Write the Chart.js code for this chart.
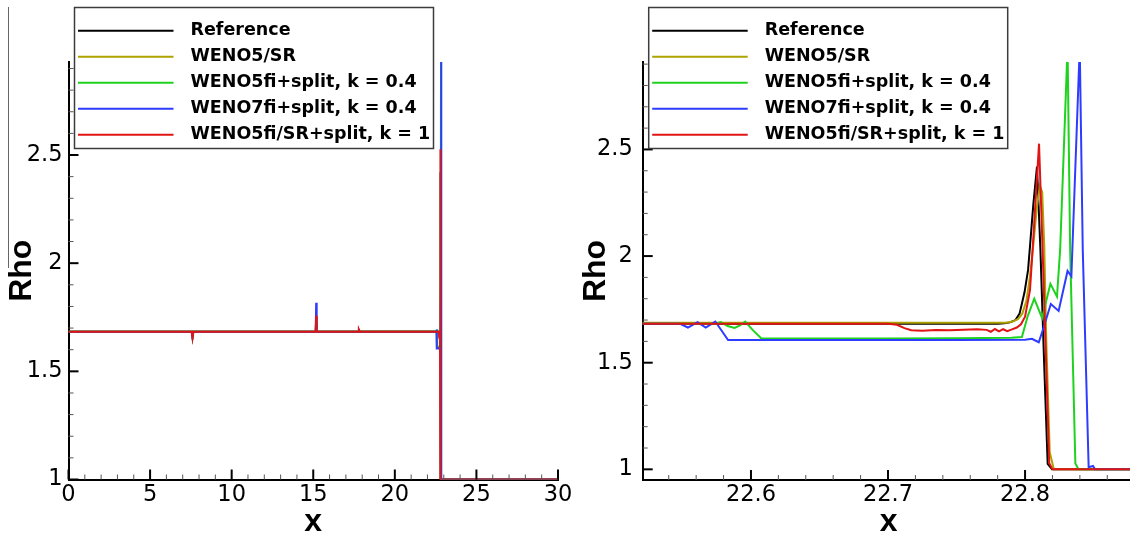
<!DOCTYPE html>
<html>
<head>
<meta charset="utf-8">
<title>Rho vs x</title>
<script src="https://cdn.jsdelivr.net/npm/chart.js@4.4.1/dist/chart.umd.min.js"></script>
<style>
  html, body { margin: 0; padding: 0; background: #fff; overflow: hidden; }
  #wrap { position: relative; width: 1130px; height: 538px; overflow: hidden; background: #fff; }
  canvas { position: absolute; top: 0; }
  #leftChart { left: 0; }
  #rightChart { left: 565px; }
</style>
</head>
<body>
<div id="wrap">
  <canvas id="leftChart" width="600" height="538"></canvas>
  <canvas id="rightChart" width="600" height="538"></canvas>
</div>
<script>
// series names and colours (legend order)
const seriesLabels = ['Reference', 'WENO5/SR', 'WENO5fi+split, k = 0.4', 'WENO7fi+split, k = 0.4', 'WENO5fi/SR+split, k = 1'];
const seriesColors = ['#000000', '#ada200', '#1ed21e', '#2e3cff', '#e01414'];

// Reference
const refX = [0, 22.78, 22.785, 22.789, 22.793, 22.796, 22.7996, 22.8022, 22.8034, 22.806, 22.8087, 22.8112, 22.8138, 22.8165, 22.8197, 30];
const refY = [1.683, 1.683, 1.685, 1.689, 1.70, 1.73, 1.83, 1.935, 2.03, 2.24, 2.42, 2.03, 1.52, 1.026, 1.0, 1.0];

// WENO5/SR
const srX = [0, 7.55, 7.6, 7.65, 15.15, 15.18, 15.21, 22.786, 22.791, 22.795, 22.798, 22.801, 22.8035, 22.806, 22.8085, 22.8108, 22.8125, 22.814, 22.8155, 22.818, 22.821, 30];
const srY = [1.684, 1.684, 1.657, 1.684, 1.684, 1.72, 1.684, 1.687, 1.693, 1.705, 1.73, 1.79, 1.90, 2.05, 2.22, 2.33, 2.30, 2.05, 1.60, 1.08, 1.0, 1.0];

// WENO5fi+split, k = 0.4
const fiX = [0, 7.55, 7.6, 7.65, 15.15, 15.18, 15.21, 17.75, 17.8, 17.85, 22.574, 22.578, 22.583, 22.588, 22.592, 22.5958, 22.601, 22.6076, 22.65, 22.70, 22.75, 22.79, 22.7977, 22.802, 22.8067, 22.8124, 22.8185, 22.8233, 22.8256, 22.831, 22.8329, 22.8367, 22.839, 30];
const fiY = [1.683, 1.683, 1.657, 1.683, 1.683, 1.75, 1.683, 1.683, 1.69, 1.683, 1.683, 1.69, 1.672, 1.663, 1.675, 1.693, 1.655, 1.614, 1.613, 1.614, 1.615, 1.617, 1.62, 1.72, 1.80, 1.71, 1.87, 1.81, 2.03, 2.98, 2.03, 1.027, 1.0, 1.0];

// WENO7fi+split, k = 0.4
const fi7X = [0, 7.55, 7.6, 7.65, 15.15, 15.18, 15.21, 17.75, 17.8, 17.85, 22.548, 22.554, 22.561, 22.567, 22.574, 22.5833, 22.65, 22.70, 22.75, 22.80, 22.805, 22.81, 22.8136, 22.8188, 22.8245, 22.831, 22.8338, 22.8399, 22.8421, 22.8464, 22.8496, 22.851, 30];
const fi7Y = [1.683, 1.683, 1.657, 1.683, 1.683, 1.817, 1.683, 1.683, 1.69, 1.683, 1.683, 1.665, 1.69, 1.665, 1.693, 1.606, 1.606, 1.607, 1.607, 1.608, 1.612, 1.596, 1.666, 1.775, 1.743, 1.93, 1.905, 2.98, 2.03, 1.01, 1.016, 1.0, 1.0];

// WENO5fi/SR+split, k = 1
const fisrX = [0, 7.55, 7.6, 7.65, 15.15, 15.18, 15.21, 17.75, 17.8, 17.85, 22.70, 22.7065, 22.712, 22.717, 22.725, 22.735, 22.745, 22.755, 22.765, 22.772, 22.775, 22.778, 22.781, 22.784, 22.787, 22.79, 22.794, 22.797, 22.80, 22.8036, 22.8055, 22.8102, 22.8128, 22.8176, 22.82, 30];
const fisrY = [1.683, 1.683, 1.655, 1.683, 1.683, 1.758, 1.683, 1.683, 1.692, 1.683, 1.683, 1.678, 1.662, 1.652, 1.650, 1.653, 1.652, 1.655, 1.657, 1.654, 1.645, 1.658, 1.647, 1.657, 1.648, 1.655, 1.665, 1.68, 1.716, 1.84, 2.03, 2.527, 2.03, 1.03, 1.0, 1.0];

const seriesX = [refX, srX, fiX, fi7X, fisrX];
const seriesY = [refY, srY, fiY, fi7Y, fisrY];

const tickFont = { family: '"DejaVu Sans", sans-serif', size: 22.5 };
const titleFont = { family: '"Liberation Sans", Arial, sans-serif', size: 32, weight: 'bold', lineHeight: 1 };

function isMultiple(v, step) {
    const r = v / step;
    return Math.abs(r - Math.round(r)) < 1e-6;
}

function fmt(v) {
    return String(Math.round(v * 10) / 10);
}

function buildDatasets() {
    return seriesLabels.map(function(label, i) {
        return {
            label: label,
            data: seriesX[i].map(function(x, j) { return { x: x, y: seriesY[i][j] }; }),
            borderColor: seriesColors[i],
            backgroundColor: seriesColors[i],
            borderWidth: 2,
            pointRadius: 0,
            fill: false,
            tension: 0,
            order: seriesLabels.length - i   // last series drawn on top
        };
    });
}

// tecplot style ticks pointing into the plot
const inwardTicks = {
    id: 'inwardTicks',
    afterDraw(chart) {
        const ctx = chart.ctx;
        const area = chart.chartArea;
        const xs = chart.scales.x;
        const ys = chart.scales.y;
        ctx.save();
        xs.ticks.forEach(function(t) {
            const px = xs.getPixelForValue(t.value);
            if (px < area.left - 1 || px > area.right + 1) return;
            const major = t.label !== '';
            ctx.beginPath();
            ctx.lineWidth = major ? 2 : 1;
            ctx.strokeStyle = major ? '#000' : '#555';
            ctx.moveTo(px, area.bottom);
            ctx.lineTo(px, area.bottom - (major ? 10 : 5));
            ctx.stroke();
        });
        ys.ticks.forEach(function(t) {
            const py = ys.getPixelForValue(t.value);
            if (py < area.top - 1 || py > area.bottom + 1) return;
            const major = t.label !== '';
            ctx.beginPath();
            ctx.lineWidth = major ? 2 : 1;
            ctx.strokeStyle = major ? '#000' : '#555';
            ctx.moveTo(area.left, py);
            ctx.lineTo(area.left + (major ? 10 : 5), py);
            ctx.stroke();
        });
        ctx.restore();
    }
};

// boxed legend in the upper left corner
const boxLegend = {
    id: 'boxLegend',
    afterDraw(chart) {
        const ctx = chart.ctx;
        const bx = chart.chartArea.left + 6;
        const by = 7.5;
        const bw = 359;
        const bh = 141;
        ctx.save();
        ctx.fillStyle = '#fff';
        ctx.fillRect(bx, by, bw, bh);
        ctx.lineWidth = 1.5;
        ctx.strokeStyle = '#3c3c3c';
        ctx.strokeRect(bx, by, bw, bh);
        ctx.font = 'bold 17.5px "DejaVu Sans", sans-serif';
        ctx.textBaseline = 'middle';
        ctx.textAlign = 'left';
        chart.data.datasets.forEach(function(ds, i) {
            const y = by + 23.2 + i * 26;
            ctx.beginPath();
            ctx.strokeStyle = ds.borderColor;
            ctx.lineWidth = 2;
            ctx.moveTo(bx + 3.5, y);
            ctx.lineTo(bx + 99, y);
            ctx.stroke();
            ctx.fillStyle = '#000';
            ctx.fillText(ds.label, bx + 116, y);
        });
        ctx.restore();
    }
};

// thin stray rule at the left edge of the original figure
const edgeRule = {
    id: 'edgeRule',
    afterDraw(chart) {
        const ctx = chart.ctx;
        ctx.save();
        ctx.strokeStyle = '#666';
        ctx.lineWidth = 1;
        ctx.beginPath();
        ctx.moveTo(8.5, 7);
        ctx.lineTo(8.5, 268);
        ctx.stroke();
        ctx.restore();
    }
};

function makeOptions(cfg) {
    return {
        responsive: false,
        animation: false,
        events: [],
        layout: { autoPadding: false, padding: { left: 0, top: 62, right: cfg.padRight, bottom: 0 } },
        plugins: { legend: { display: false }, tooltip: { enabled: false } },
        scales: {
            x: {
                type: 'linear',
                min: cfg.xMin,
                max: cfg.xMax,
                grid: { display: false, drawTicks: false },
                border: { display: true, color: '#000', width: 2 },
                ticks: {
                    stepSize: cfg.xStep,
                    autoSkip: false,
                    maxRotation: 0,
                    minRotation: 0,
                    includeBounds: false,
                    maxTicksLimit: 1000,
                    padding: 2,
                    color: '#000',
                    font: tickFont,
                    callback: function(v) { return isMultiple(v, cfg.xMajor) ? fmt(v) : ''; }
                },
                title: { display: true, text: 'x', color: '#000', font: titleFont, padding: { top: 0, bottom: 0 } },
                afterFit: function(s) {
                    s.height = 538 - cfg.bottom;
                    s.paddingLeft = 0;
                    s.paddingRight = 0;
                }
            },
            y: {
                type: 'linear',
                min: cfg.yMin,
                max: cfg.yMax,
                grid: { display: false, drawTicks: false },
                border: { display: true, color: '#000', width: 2 },
                ticks: {
                    stepSize: 0.1,
                    autoSkip: false,
                    includeBounds: false,
                    maxTicksLimit: 1000,
                    padding: cfg.yPad,
                    color: '#000',
                    font: tickFont,
                    callback: function(v) { return isMultiple(v, 0.5) ? fmt(v) : ''; }
                },
                title: { display: true, text: 'Rho', color: '#000', font: titleFont, padding: { top: cfg.titlePad, bottom: 0 } },
                afterFit: function(s) {
                    s.width = cfg.left;
                    s.paddingTop = 0;
                    s.paddingBottom = 0;
                }
            }
        }
    };
}

// whole domain
new Chart(document.getElementById('leftChart').getContext('2d'), {
    type: 'line',
    data: { datasets: buildDatasets() },
    options: makeOptions({
        xMin: 0, xMax: 30, xStep: 1, xMajor: 5,
        yMin: 1, yMax: 2.93,
        left: 68.5, padRight: 42, bottom: 479.5,
        yPad: 6, titlePad: 6
    }),
    plugins: [inwardTicks, boxLegend, edgeRule]
});

// close-up of the shock
new Chart(document.getElementById('rightChart').getContext('2d'), {
    type: 'line',
    data: { datasets: buildDatasets() },
    options: makeOptions({
        xMin: 22.521, xMax: 22.88, xStep: 0.02, xMajor: 0.1,
        yMin: 0.95, yMax: 2.91,
        left: 77.7, padRight: 30.3, bottom: 480,
        yPad: 10, titlePad: 15.5
    }),
    plugins: [inwardTicks, boxLegend]
});
</script>
</body>
</html>
